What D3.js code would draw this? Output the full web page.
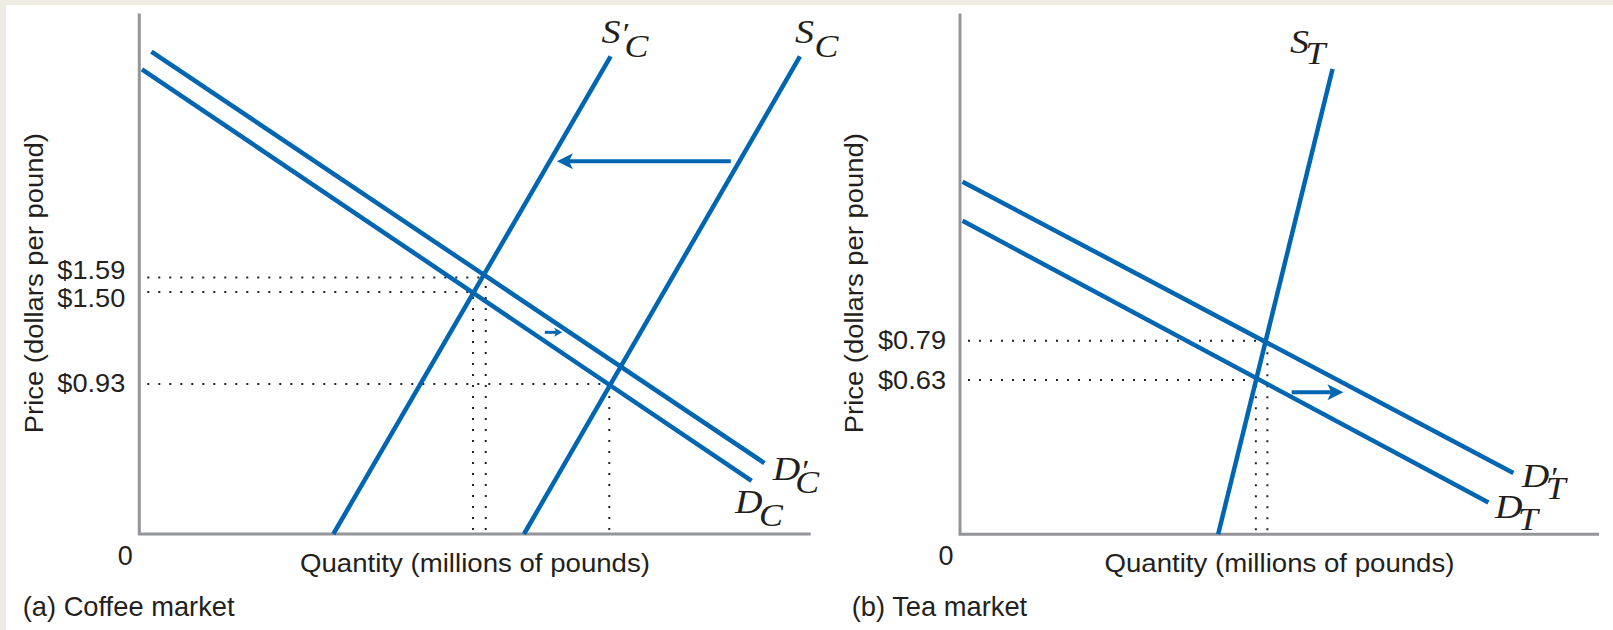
<!DOCTYPE html>
<html>
<head>
<meta charset="utf-8">
<script src="https://cdn.jsdelivr.net/npm/d3@7"></script>
<style>
  html, body { margin: 0; padding: 0; background: #eeebe2; }
  svg { display: block; }
</style>
</head>
<body>
<script>
// ---- data (quantity: 0-100 units along the axis, price: dollars per pound) ----
const coffeePriceTicks = [0.93, 1.50, 1.59];
const coffeeSupply = [[57.3, 0], [98.4, 2.96]];        // S_C
const coffeeSupplyNew = [[28.9, 0], [70.2, 2.96]];     // S'_C
const coffeeDemand = [[0.4, 2.88], [91.2, 0.33]];      // D_C
const coffeeDemandNew = [[1.8, 2.99], [93.1, 0.44]];   // D'_C
const coffeeEquilibria = [[70.0, 0.93], [49.7, 1.50], [51.6, 1.59]];
const coffeeArrows = [[[88.1, 2.31], [62.2, 2.31]], [[60.4, 1.25], [63.0, 1.25]]];

const teaPriceTicks = [0.63, 0.79];
const teaSupply = [[40.4, 0], [58.3, 1.90]];           // S_T
const teaDemand = [[0.4, 1.28], [82.7, 0.13]];         // D_T
const teaDemandNew = [[0.4, 1.44], [86.6, 0.25]];      // D'_T
const teaEquilibria = [[46.3, 0.63], [48.1, 0.79]];
const teaArrows = [[[51.9, 0.58], [60.0, 0.58]]];

// ---- layout ----
const [W, H] = [1613, 630];
const axisColor = '#939598';
const blue = '#0066b2';
const ink = '#231f20';
const sans = '"Liberation Sans", Arial, Helvetica, sans-serif';
const serif = '"Liberation Serif", "Times New Roman", serif';
const labelStretch = 1.12; // the italic curve labels are a little wider than the font

const svg = d3.select('body')
    .append('svg')
    .attr('width', W)
    .attr('height', H);

// white card on the beige page
svg.append('rect')
    .attr('x', 6)
    .attr('y', 5)
    .attr('width', W - 6)
    .attr('height', H - 5)
    .attr('fill', '#fff');

const panels = [
  {
    left: 139.3, right: 810.7, bottom: 534, axisTop: 13.5,
    priceMax: 3, priceMaxY: 50,
    ticks: coffeePriceTicks,
    equilibria: coffeeEquilibria,
    arrows: coffeeArrows,
    curves: [
      {pts: coffeeSupplyNew, main: 'S', prime: true, sub: 'C', dx: -9, dy: -13, subDx: 23, subDy: 14},
      {pts: coffeeSupply, main: 'S', prime: false, sub: 'C', dx: -5, dy: -13, subDx: 19.5, subDy: 14},
      {pts: coffeeDemandNew, main: 'D', prime: true, sub: 'C', dx: 8.3, dy: 17, subDx: 22.5, subDy: 13},
      {pts: coffeeDemand, main: 'D', prime: false, sub: 'C', dx: -16.6, dy: 32.5, subDx: 24, subDy: 13}
    ],
    caption: '(a) Coffee market', captionX: 22.7,
    priceLabelX: 43.3
  },
  {
    left: 960, right: 1599, bottom: 534.3, axisTop: 13.5,
    priceMax: 2, priceMaxY: 44.5,
    ticks: teaPriceTicks,
    equilibria: teaEquilibria,
    arrows: teaArrows,
    curves: [
      {pts: teaSupply, main: 'S', prime: false, sub: 'T', dx: -42.5, dy: -15.7, subDx: 15.5, subDy: 11},
      {pts: teaDemandNew, main: 'D', prime: true, sub: 'T', dx: 8.3, dy: 13.6, subDx: 24, subDy: 12},
      {pts: teaDemand, main: 'D', prime: false, sub: 'T', dx: 6.5, dy: 15.8, subDx: 23, subDy: 12}
    ],
    caption: '(b) Tea market', captionX: 851.7,
    priceLabelX: 43.3 + 820
  }
];

panels.forEach(drawPanel);

function drawPanel(p) {
  const g = svg.append('g');

  const x = d3.scaleLinear().domain([0, 100]).range([p.left, p.right]);
  const y = d3.scaleLinear().domain([0, p.priceMax]).range([p.bottom, p.priceMaxY]);
  const line = d3.line().x(d => x(d[0])).y(d => y(d[1]));

  // dotted guide lines to the equilibria
  p.equilibria.forEach(([q, pr]) => {
    g.append('line')
        .attr('x1', x(0)).attr('y1', y(pr))
        .attr('x2', x(q)).attr('y2', y(pr))
        .attr('stroke', '#222')
        .attr('stroke-width', 2)
        .attr('stroke-dasharray', '2 9')
        .attr('stroke-dashoffset', -8);
    g.append('line')
        .attr('x1', x(q)).attr('y1', y(0))
        .attr('x2', x(q)).attr('y2', y(pr))
        .attr('stroke', '#222')
        .attr('stroke-width', 2)
        .attr('stroke-dasharray', '2 9')
        .attr('stroke-dashoffset', -4);
  });

  // axes
  g.append('path')
      .attr('d', `M${x(0)},${p.axisTop}V${y(0)}H${x(100)}`)
      .attr('fill', 'none')
      .attr('stroke', axisColor)
      .attr('stroke-width', 3);

  // supply and demand curves, each with its italic label (letter, prime, subscript)
  p.curves.forEach(c => {
    g.append('path')
        .attr('d', line(c.pts))
        .attr('fill', 'none')
        .attr('stroke', blue)
        .attr('stroke-width', 4.5);

    const end = c.pts[c.pts.length - 1];
    const lx = x(end[0]) + c.dx;
    const ly = y(end[1]) + c.dy;
    const t = g.append('text')
        .attr('transform', `translate(${lx},${ly}) scale(${labelStretch},1)`)
        .attr('font-family', serif)
        .attr('font-style', 'italic')
        .attr('font-size', 34)
        .attr('fill', ink);
    t.append('tspan').attr('x', 0).attr('y', 0).text(c.main);
    if (c.prime) t.append('tspan').attr('font-size', 30).text('\u2032');
    t.append('tspan')
        .attr('x', c.subDx / labelStretch)
        .attr('y', c.subDy)
        .attr('font-size', 32)
        .text(c.sub);
  });

  // shift arrows
  p.arrows.forEach(([a, b]) => {
    const [x1, y1, x2, y2] = [x(a[0]), y(a[1]), x(b[0]), y(b[1])];
    const len = Math.hypot(x2 - x1, y2 - y1);
    const ux = (x2 - x1) / len, uy = (y2 - y1) / len;
    const small = len < 30;
    const hl = small ? 8 : 16, hw = small ? 4.5 : 8, notch = small ? 6 : 12;
    g.append('line')
        .attr('x1', x1).attr('y1', y1)
        .attr('x2', x2 - ux * notch).attr('y2', y2 - uy * notch)
        .attr('stroke', blue)
        .attr('stroke-width', small ? 3 : 4);
    const bx = x2 - ux * hl, by = y2 - uy * hl;
    g.append('path')
        .attr('d', `M${x2},${y2}L${bx - uy * hw},${by + ux * hw}L${x2 - ux * notch},${y2 - uy * notch}L${bx + uy * hw},${by - ux * hw}Z`)
        .attr('fill', blue);
  });

  // price tick labels, spread apart where they would collide
  const yAxis = d3.axisLeft(y)
      .tickValues(p.ticks)
      .tickSize(0)
      .tickPadding(14)
      .tickFormat(d => '$' + d.toFixed(2));
  const ag = g.append('g')
      .attr('transform', `translate(${x(0)},0)`)
      .call(yAxis);
  ag.select('.domain').remove();

  const minGap = 27.7;
  const pos = p.ticks.map(t => ({t, c: y(t)})).sort((a, b) => a.c - b.c);
  for (let i = 1; i < pos.length; i++) {
    if (pos[i].c - pos[i - 1].c < minGap) {
      const m = (pos[i].c + pos[i - 1].c) / 2;
      pos[i - 1].c = m - minGap / 2;
      pos[i].c = m + minGap / 2;
    }
  }
  const shift = new Map(pos.map(d => [d.t, d.c - y(d.t)]));

  ag.selectAll('text')
      .attr('y', d => shift.get(d))
      .attr('font-family', sans)
      .attr('font-size', 25)
      .attr('fill', ink)
      .attr('textLength', 68)
      .attr('lengthAdjust', 'spacingAndGlyphs');

  // origin
  g.append('text')
      .attr('x', x(0) - 14)
      .attr('y', y(0) + 31)
      .attr('text-anchor', 'middle')
      .attr('font-family', sans)
      .attr('font-size', 27)
      .attr('fill', ink)
      .text('0');

  // axis titles
  g.append('text')
      .attr('x', (x(0) + x(100)) / 2)
      .attr('y', 572)
      .attr('text-anchor', 'middle')
      .attr('font-family', sans)
      .attr('font-size', 26.5)
      .attr('fill', ink)
      .attr('textLength', 350)
      .attr('lengthAdjust', 'spacingAndGlyphs')
      .text('Quantity (millions of pounds)');

  g.append('text')
      .attr('transform', `translate(${p.priceLabelX},283.2) rotate(-90)`)
      .attr('text-anchor', 'middle')
      .attr('font-family', sans)
      .attr('font-size', 26)
      .attr('fill', ink)
      .attr('textLength', 300)
      .attr('lengthAdjust', 'spacingAndGlyphs')
      .text('Price (dollars per pound)');

  // panel caption
  g.append('text')
      .attr('x', p.captionX)
      .attr('y', 616)
      .attr('font-family', sans)
      .attr('font-size', 27.3)
      .attr('fill', ink)
      .text(p.caption);
}
</script>
</body>
</html>
